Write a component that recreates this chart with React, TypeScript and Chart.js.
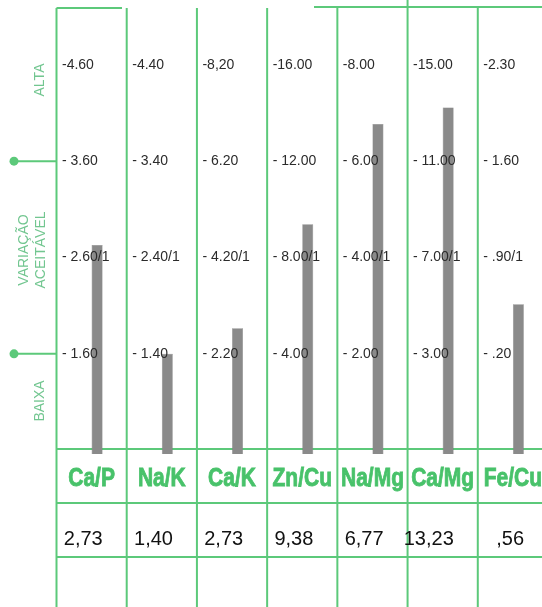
import React, { useEffect, useRef } from "react";
import { Chart, registerables } from "chart.js";

Chart.register(...registerables);

const categories = ["Ca/P", "Na/K", "Ca/K", "Zn/Cu", "Na/Mg", "Ca/Mg", "Fe/Cu"];
const values = [2.73, 1.4, 2.73, 9.38, 6.77, 13.23, 0.56];
const valueLabels = ["2,73", "1,40", "2,73", "9,38", "6,77", "13,23", ",56"];

// reference levels per column (low, acceptable, high, top)
const levelLow = [1.6, 1.4, 2.2, 4.0, 2.0, 3.0, 0.2];
const levelMid = [2.6, 2.4, 4.2, 8.0, 4.0, 7.0, 0.9];
const levelHigh = [3.6, 3.4, 6.2, 12.0, 6.0, 11.0, 1.6];
const levelTop = [4.6, 4.4, 8.2, 16.0, 8.0, 15.0, 2.3];

const lowLabels = ["- 1.60", "- 1.40", "- 2.20", "- 4.00", "- 2.00", "- 3.00", "- .20"];
const midLabels = ["- 2.60/1", "- 2.40/1", "- 4.20/1", "- 8.00/1", "- 4.00/1", "- 7.00/1", "- .90/1"];
const highLabels = ["- 3.60", "- 3.40", "- 6.20", "- 12.00", "- 6.00", "- 11.00", "- 1.60"];
const topLabels = ["-4.60", "-4.40", "-8,20", "-16.00", "-8.00", "-15.00", "-2.30"];

const Y_MIN = -0.04;
const Y_MAX = 4.59;

// map a value into the common level scale (1 = low, 2 = mid, 3 = high, 4 = top)
function toLevel(i: number): number {
  const v = values[i];
  const pts = [levelLow[i], levelMid[i], levelHigh[i], levelTop[i]];
  let seg = 0;
  if (v >= pts[2]) seg = 2;
  else if (v >= pts[1]) seg = 1;
  const a = pts[seg];
  const b = pts[seg + 1];
  return seg + 1 + (v - a) / (b - a);
}

const GREEN = "#5cc97a";
const LABEL_GREEN = "#48c26a";
const SIDE_GREEN = "#72c690";
const FONT = '"Liberation Sans", Arial, sans-serif';

export default function App() {
  const ref = useRef<HTMLCanvasElement | null>(null);

  useEffect(() => {
    const canvas = ref.current;
    if (!canvas) return;

    const tablePlugin = {
      id: "tablePlugin",
      beforeDatasetsDraw(chart: any) {
        const ctx = chart.ctx;
        const ys = chart.scales.y;
        const area = chart.chartArea;
        const n = categories.length;
        const w = (area.right - area.left) / n;
        ctx.save();
        ctx.strokeStyle = GREEN;
        ctx.lineWidth = 2;
        // top border with gap
        ctx.beginPath();
        ctx.moveTo(area.left, 8);
        ctx.lineTo(122, 8);
        ctx.moveTo(314, 7);
        ctx.lineTo(560, 7);
        ctx.stroke();
        // vertical column lines
        for (let i = 0; i <= n; i++) {
          const x = area.left + i * w;
          ctx.beginPath();
          ctx.moveTo(x, i === 5 ? 0 : 8);
          ctx.lineTo(x, 607);
          ctx.stroke();
        }
        // table row lines
        [449, 503, 557].forEach((y) => {
          ctx.beginPath();
          ctx.moveTo(area.left, y);
          ctx.lineTo(560, y);
          ctx.stroke();
        });
        // side markers
        [3, 1].forEach((lv) => {
          const y = ys.getPixelForValue(lv);
          ctx.beginPath();
          ctx.moveTo(14, y);
          ctx.lineTo(area.left, y);
          ctx.stroke();
          ctx.fillStyle = GREEN;
          ctx.beginPath();
          ctx.arc(14, y, 4.5, 0, Math.PI * 2);
          ctx.fill();
        });
        // rotated side labels
        ctx.fillStyle = SIDE_GREEN;
        ctx.font = `14px ${FONT}`;
        ctx.textAlign = "center";
        ctx.textBaseline = "middle";
        const side = [
          ["ALTA", 40, 80],
          ["VARIAÇÃO", 24, 250],
          ["ACEITÁVEL", 41, 250],
          ["BAIXA", 40, 401],
        ] as [string, number, number][];
        side.forEach(([t, x, y]) => {
          ctx.save();
          ctx.translate(x, y);
          ctx.rotate(-Math.PI / 2);
          ctx.fillText(t, 0, 0);
          ctx.restore();
        });
        ctx.restore();
      },
      afterDatasetsDraw(chart: any) {
        const ctx = chart.ctx;
        const ys = chart.scales.y;
        const area = chart.chartArea;
        const n = categories.length;
        const w = (area.right - area.left) / n;
        ctx.save();
        // per-column tick labels
        ctx.fillStyle = "#2b2b2b";
        ctx.font = `14px ${FONT}`;
        ctx.textAlign = "left";
        ctx.textBaseline = "middle";
        const rows: [string[], number][] = [
          [lowLabels, 1],
          [midLabels, 2],
          [highLabels, 3],
          [topLabels, 4],
        ];
        for (let i = 0; i < n; i++) {
          const left = area.left + i * w;
          rows.forEach(([labels, lv]) => {
            ctx.fillText(labels[i], left + 5.5, ys.getPixelForValue(lv));
          });
        }
        // category labels
        ctx.fillStyle = LABEL_GREEN;
        ctx.strokeStyle = LABEL_GREEN;
        ctx.lineWidth = 0.7;
        ctx.font = `bold 21px ${FONT}`;
        ctx.textAlign = "center";
        ctx.textBaseline = "alphabetic";
        for (let i = 0; i < n; i++) {
          const cx = area.left + (i + 0.5) * w;
          ctx.save();
          ctx.translate(cx, 486);
          ctx.scale(1, 1.2);
          ctx.fillText(categories[i], 0, 0);
          ctx.strokeText(categories[i], 0, 0);
          ctx.restore();
        }
        // value labels
        ctx.fillStyle = "#111";
        ctx.font = `20px ${FONT}`;
        ctx.textAlign = "right";
        for (let i = 0; i < n; i++) {
          const right = area.left + (i + 1) * w;
          ctx.fillText(valueLabels[i], right - 24, 545);
        }
        ctx.restore();
      },
    };

    const chart = new Chart(canvas, {
      type: "bar",
      data: {
        labels: categories,
        datasets: [
          {
            data: categories.map(() => null),
            backgroundColor: "rgba(0,0,0,0)",
          },
          {
            data: categories.map((_, i) => toLevel(i)),
            backgroundColor: "#8a8a8a",
            borderColor: "#777",
            borderWidth: 0.5,
            base: Y_MIN,
          } as any,
        ],
      },
      options: {
        responsive: false,
        animation: false,
        categoryPercentage: 0.313,
        barPercentage: 1,
        layout: { padding: { left: 56.5, right: 560 - 548, top: 8, bottom: 607 - 454 } },
        scales: {
          x: { display: false },
          y: { display: false, min: Y_MIN, max: Y_MAX },
        },
        plugins: {
          legend: { display: false },
          tooltip: { enabled: false },
        },
      } as any,
      plugins: [tablePlugin],
    });

    return () => chart.destroy();
  }, []);

  return (
    <div
      style={{
        position: "fixed",
        left: 0,
        top: 0,
        width: 542,
        height: 607,
        overflow: "hidden",
        background: "#fff",
      }}
    >
      <canvas ref={ref} width={560} height={607} style={{ display: "block" }} />
    </div>
  );
}
